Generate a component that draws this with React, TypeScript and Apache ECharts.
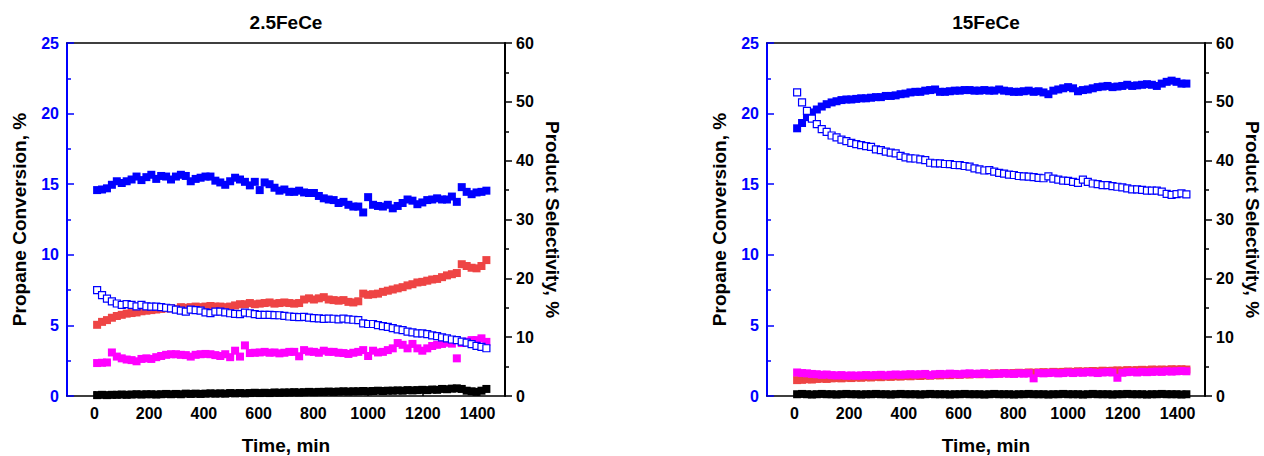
import React, { useEffect, useRef } from "react";
import * as echarts from "echarts";

const FONT = "Liberation Sans";

const TITLES = ["2.5FeCe", "15FeCe"];
const X_TICKS = [0, 200, 400, 600, 800, 1000, 1200, 1400];

const TIME = [
  10, 28, 46, 64, 82, 100, 118, 136, 154, 172,
  190, 208, 226, 244, 262, 280, 298, 316, 334, 352,
  370, 388, 406, 424, 442, 460, 478, 496, 514, 532,
  550, 568, 586, 604, 622, 640, 658, 676, 694, 712,
  730, 748, 766, 784, 802, 820, 838, 856, 874, 892,
  910, 928, 946, 964, 982, 1000, 1018, 1036, 1054, 1072,
  1090, 1108, 1126, 1144, 1162, 1180, 1198, 1216, 1234, 1252,
  1270, 1288, 1306, 1324, 1342, 1360, 1378, 1396, 1414, 1432,
];

// ---- 2.5FeCe ----
const A_CONV = [
  7.5, 7.15, 6.9, 6.7, 6.55, 6.45, 6.5, 6.45, 6.35, 6.45,
  6.35, 6.33, 6.33, 6.3, 6.25, 6.2, 6.12, 6.05, 5.98, 6.12,
  6.08, 6.05, 5.92, 5.87, 5.98, 5.97, 5.92, 5.86, 5.82, 5.8,
  5.9, 5.86, 5.8, 5.75, 5.74, 5.74, 5.73, 5.72, 5.68, 5.63,
  5.6, 5.58, 5.6, 5.55, 5.52, 5.5, 5.46, 5.48, 5.47, 5.43,
  5.48, 5.43, 5.4, 5.38, 5.14, 5.1, 5.1, 5.02, 4.95, 4.9,
  4.8, 4.72, 4.67, 4.56, 4.5, 4.44, 4.43, 4.38, 4.3, 4.24,
  4.15, 4.08, 4.0, 3.96, 3.85, 3.78, 3.68, 3.55, 3.48, 3.38,
];
const A_BLUE = [
  35.0, 35.1, 35.3, 35.9, 36.5, 36.2, 36.5, 36.8, 37.3, 36.7,
  37.2, 37.6, 36.9, 37.4, 37.3, 36.8, 37.3, 37.6, 37.4, 36.5,
  36.9, 37.1, 37.3, 37.3, 36.6, 36.3, 35.9, 36.5, 37.1, 36.8,
  36.4, 35.8, 36.4, 35.0, 36.3, 36.0, 35.4, 34.9, 35.1, 34.7,
  34.7, 34.9, 34.6, 34.5, 34.5, 34.0, 33.6, 33.4, 33.3, 32.8,
  33.0, 32.5, 32.2, 32.2, 31.2, 33.8, 32.5, 32.3, 32.2, 32.5,
  31.9, 32.3, 32.8, 33.4, 33.2, 32.6, 32.9, 33.3, 33.4, 33.6,
  33.4, 33.4, 33.9, 33.0, 35.5, 34.7, 34.3, 34.6, 34.7, 34.9,
];
const A_RED = [
  12.1, 12.6, 12.9, 13.3, 13.6, 13.8, 14.0, 14.1, 14.2, 14.4,
  14.5, 14.6, 14.7, 14.8, 14.9, 14.9, 14.8, 15.1, 15.0, 15.1,
  15.2, 15.1, 15.2, 15.3, 15.2, 15.2, 15.1, 15.2, 15.4, 15.6,
  15.6, 15.8, 15.6, 15.7, 15.8, 15.9, 15.7, 15.8, 15.9, 15.8,
  15.7, 15.8, 16.4, 16.6, 16.4, 16.6, 16.8, 16.4, 16.3, 16.2,
  16.3, 16.0, 15.9, 16.1, 17.4, 17.2, 17.3, 17.4, 17.7, 17.9,
  18.1, 18.3, 18.5, 18.8, 19.0, 19.3, 19.4, 19.6, 19.8, 19.9,
  20.2, 20.5, 20.7, 20.9, 22.4, 22.1, 21.8, 21.7, 22.1, 23.1,
];
const A_MAG = [
  5.6, 5.65, 5.7, 7.4, 6.7, 6.4, 6.2, 6.1, 5.9, 6.3,
  6.4, 6.3, 6.6, 6.8, 7.0, 7.1, 7.1, 7.0, 6.95, 6.7,
  7.0, 7.1, 7.15, 7.1, 6.95, 6.8, 7.1, 6.6, 7.7, 6.7,
  8.6, 7.3, 7.35, 7.4, 7.5, 7.35, 7.4, 7.25, 7.35, 7.5,
  7.5, 6.75, 7.8, 7.55, 7.5, 7.35, 7.7, 7.5, 7.5, 7.35,
  7.3, 7.15, 7.35, 7.5, 7.8, 6.8, 7.7, 7.4, 7.5, 7.8,
  8.1, 9.0, 8.7, 8.1, 8.85, 8.1, 7.7, 8.1, 8.5, 8.7,
  8.85, 9.05, 8.9, 6.4, 9.0, 9.25, 9.5, 9.5, 9.8, 9.2,
];
const A_BLK = [
  0.15, 0.2, 0.15, 0.2, 0.2, 0.25, 0.2, 0.25, 0.3, 0.25,
  0.3, 0.3, 0.25, 0.3, 0.35, 0.3, 0.35, 0.3, 0.4, 0.35,
  0.4, 0.35, 0.4, 0.45, 0.4, 0.45, 0.4, 0.5, 0.45, 0.5,
  0.45, 0.5, 0.55, 0.5, 0.55, 0.5, 0.6, 0.55, 0.6, 0.6,
  0.65, 0.6, 0.65, 0.7, 0.65, 0.7, 0.7, 0.75, 0.7, 0.75,
  0.8, 0.75, 0.8, 0.8, 0.85, 0.8, 0.85, 0.9, 0.85, 0.9,
  0.9, 0.95, 0.9, 1.0, 0.95, 1.0, 1.05, 1.0, 1.1, 1.05,
  1.2, 1.15, 1.25, 1.3, 1.2, 0.9, 0.8, 0.7, 0.9, 1.2,
];

// ---- 15FeCe ----
const B_CONV = [
  21.5, 20.8, 20.2, 19.65, 19.25, 18.9, 18.7, 18.45, 18.32, 18.15,
  18.05, 17.93, 17.84, 17.77, 17.7, 17.64, 17.47, 17.41, 17.3, 17.23,
  17.18, 17.0, 16.9, 16.83, 16.82, 16.76, 16.7, 16.52, 16.48, 16.47,
  16.43, 16.42, 16.36, 16.35, 16.29, 16.24, 16.12, 16.05, 15.97, 16.0,
  15.89, 15.8, 15.75, 15.68, 15.65, 15.58, 15.55, 15.53, 15.5, 15.45,
  15.42, 15.56, 15.4, 15.33, 15.25, 15.24, 15.17, 15.1, 15.33, 15.17,
  15.05, 15.0, 14.94, 14.93, 14.87, 14.82, 14.78, 14.7, 14.64, 14.63,
  14.6, 14.55, 14.55, 14.54, 14.48, 14.31, 14.24, 14.3, 14.35, 14.28,
];
const B_BLUE = [
  45.5, 46.4, 47.4, 48.2, 48.7, 49.2, 49.6, 49.9, 50.1, 50.3,
  50.4, 50.4, 50.5, 50.6, 50.6, 50.7, 50.8, 50.8, 51.0, 51.0,
  51.1, 51.3, 51.4, 51.6, 51.7, 51.7, 51.9, 52.0, 52.1, 51.7,
  51.7, 51.8, 51.9, 51.9, 52.0, 52.0, 51.9, 51.9, 52.0, 51.9,
  51.9, 52.1, 51.9, 51.8, 51.7, 51.7, 51.8, 51.9, 51.7, 51.8,
  51.6, 51.3, 51.9, 52.1, 52.3, 52.5, 52.3, 51.8, 52.0, 52.1,
  52.3, 52.5, 52.6, 52.7, 52.5, 52.6, 52.7, 52.9, 52.7, 52.8,
  52.9, 53.0, 52.9, 52.7, 53.1, 53.4, 53.6, 53.4, 53.1, 53.1,
];
const B_RED = [
  2.7, 2.75, 2.85, 2.8, 2.9, 2.95, 2.9, 3.0, 3.05, 3.0,
  3.1, 3.05, 3.15, 3.1, 3.2, 3.15, 3.25, 3.2, 3.3, 3.25,
  3.35, 3.3, 3.4, 3.35, 3.45, 3.4, 3.5, 3.45, 3.55, 3.5,
  3.6, 3.55, 3.65, 3.6, 3.7, 3.65, 3.75, 3.7, 3.8, 3.75,
  3.85, 3.8, 3.9, 3.85, 3.9, 3.95, 3.9, 4.0, 3.95, 4.0,
  4.05, 4.0, 4.1, 4.05, 4.1, 4.15, 4.1, 4.2, 4.15, 4.2,
  4.25, 4.2, 4.3, 4.25, 4.3, 4.35, 4.3, 4.4, 4.35, 4.4,
  4.45, 4.4, 4.5, 4.45, 4.5, 4.45, 4.55, 4.5, 4.55, 4.5,
];
const B_MAG = [
  4.0, 3.9, 3.85, 3.75, 3.7, 3.6, 3.65, 3.55, 3.5, 3.55,
  3.45, 3.5, 3.45, 3.5, 3.55, 3.5, 3.55, 3.6, 3.5, 3.6,
  3.65, 3.6, 3.65, 3.7, 3.65, 3.7, 3.75, 3.55, 3.7, 3.75,
  3.7, 3.8, 3.75, 3.7, 3.8, 3.85, 3.75, 3.8, 3.85, 3.7,
  3.75, 3.8, 3.85, 3.8, 3.75, 3.85, 3.8, 3.85, 3.0, 3.9,
  3.85, 3.9, 3.95, 3.85, 3.9, 4.0, 3.9, 4.0, 3.95, 4.05,
  4.0, 3.9, 4.0, 4.05, 4.0, 3.1, 3.95, 4.05, 4.1, 4.0,
  4.1, 4.05, 4.1, 4.15, 4.1, 4.2, 4.15, 4.2, 4.25, 4.2,
];
const B_BLK = [
  0.3, 0.35, 0.3, 0.25, 0.3, 0.35, 0.3, 0.3, 0.25, 0.3,
  0.35, 0.3, 0.3, 0.25, 0.3, 0.3, 0.35, 0.3, 0.3, 0.25,
  0.3, 0.35, 0.3, 0.3, 0.3, 0.25, 0.3, 0.35, 0.3, 0.3,
  0.3, 0.25, 0.3, 0.3, 0.35, 0.3, 0.3, 0.3, 0.25, 0.3,
  0.35, 0.3, 0.3, 0.3, 0.25, 0.3, 0.3, 0.35, 0.3, 0.3,
  0.3, 0.25, 0.3, 0.3, 0.35, 0.3, 0.3, 0.3, 0.25, 0.3,
  0.35, 0.3, 0.3, 0.3, 0.25, 0.3, 0.3, 0.35, 0.3, 0.3,
  0.3, 0.25, 0.3, 0.3, 0.35, 0.3, 0.3, 0.3, 0.25, 0.3,
];

const BLUE = "#0000ff";
const RED = "#ee4444";
const MAGENTA = "#ff00ff";
const BLACK = "#000000";

const pair = (vals: number[]) => TIME.map((t, i) => [t, vals[i]]);

function buildOption() {
  const grids = [
    { left: 67, right: 759, top: 43, bottom: 60, outerBoundsMode: "none", containLabel: false },
    { left: 767, right: 59, top: 43, bottom: 60, outerBoundsMode: "none", containLabel: false },
  ];
  const bold = { fontFamily: FONT, fontWeight: "bold" as const };
  const xAxes: any[] = [];
  const yAxes: any[] = [];
  [0, 1].forEach((g) => {
    xAxes.push({
      gridIndex: g,
      type: "value",
      min: -100,
      max: 1500,
      position: "bottom",
      axisLine: { onZero: false, lineStyle: { color: BLACK, width: 1.5 } },
      axisTick: { inside: true, length: 5, customValues: X_TICKS, lineStyle: { color: BLACK, width: 1.5 } },
      axisLabel: {
        customValues: X_TICKS,
        formatter: (v: number) => String(v),
        color: BLACK,
        fontSize: 16,
        margin: 9,
        ...bold,
      },
      splitLine: { show: false },
      name: "Time, min",
      nameLocation: "middle",
      nameGap: 40,
      nameTextStyle: { color: BLACK, fontSize: 19, ...bold },
    });
  });
  [0, 1].forEach((g) => {
    xAxes.push({
      gridIndex: g,
      type: "value",
      min: -100,
      max: 1500,
      position: "top",
      axisLine: { onZero: false, lineStyle: { color: BLACK, width: 1.5 } },
      axisTick: { show: false },
      axisLabel: { show: false },
      splitLine: { show: false },
    });
  });
  [0, 1].forEach((g) => {
    yAxes.push({
      gridIndex: g,
      type: "value",
      min: 0,
      max: 25,
      interval: 5,
      position: "left",
      axisLine: { show: true, onZero: false, lineStyle: { color: BLUE, width: 2 } },
      axisTick: { show: true, inside: true, length: 7, lineStyle: { color: BLUE, width: 1.5 } },
      minorTick: { show: true, splitNumber: 2, length: 4, lineStyle: { color: BLUE, width: 1.5 } },
      axisLabel: { color: BLUE, fontSize: 16, margin: 8, ...bold },
      splitLine: { show: false },
      name: "Propane Conversion, %",
      nameLocation: "middle",
      nameGap: 38,
      nameRotate: 90,
      nameTextStyle: { color: BLACK, fontSize: 19, ...bold },
    });
    yAxes.push({
      gridIndex: g,
      type: "value",
      min: 0,
      max: 60,
      interval: 10,
      position: "right",
      axisLine: { show: true, onZero: false, lineStyle: { color: BLACK, width: 2 } },
      axisTick: { show: true, inside: false, length: 7, lineStyle: { color: BLACK, width: 1.5 } },
      minorTick: { show: true, splitNumber: 2, length: 4, lineStyle: { color: BLACK, width: 1.5 } },
      axisLabel: { color: BLACK, fontSize: 16, margin: 11, ...bold },
      splitLine: { show: false },
      name: "Product Selectivity, %",
      nameLocation: "middle",
      nameGap: 38,
      nameRotate: -90,
      nameTextStyle: { color: BLACK, fontSize: 19, ...bold },
    });
  });

  const filled = (name: string, data: number[], color: string, xi: number, yi: number) => ({
    name,
    type: "scatter",
    xAxisIndex: xi,
    yAxisIndex: yi,
    symbol: "rect",
    symbolSize: 8,
    silent: true,
    itemStyle: { color, opacity: 1 },
    data: pair(data),
  });
  const hollow = (name: string, data: number[], xi: number, yi: number) => ({
    name,
    type: "scatter",
    xAxisIndex: xi,
    yAxisIndex: yi,
    symbol: "rect",
    symbolSize: 7,
    silent: true,
    itemStyle: { color: "#ffffff", borderColor: BLUE, borderWidth: 1.2, opacity: 1 },
    data: pair(data),
  });

  const series = [
    filled("A other", A_BLK, BLACK, 0, 1),
    filled("A red", A_RED, RED, 0, 1),
    filled("A magenta", A_MAG, MAGENTA, 0, 1),
    filled("A selectivity", A_BLUE, BLUE, 0, 1),
    hollow("A conversion", A_CONV, 0, 0),
    filled("B other", B_BLK, BLACK, 1, 3),
    filled("B red", B_RED, RED, 1, 3),
    filled("B magenta", B_MAG, MAGENTA, 1, 3),
    filled("B selectivity", B_BLUE, BLUE, 1, 3),
    hollow("B conversion", B_CONV, 1, 2),
  ];

  return {
    animation: false,
    backgroundColor: "#ffffff",
    textStyle: { fontFamily: FONT },
    grid: grids,
    xAxis: xAxes,
    yAxis: yAxes,
    graphic: [
      {
        type: "text",
        x: 286,
        y: 22,
        style: { text: TITLES[0], fill: BLACK, font: `bold 19px "${FONT}"`, textAlign: "center", textVerticalAlign: "middle" },
      },
      {
        type: "text",
        x: 986,
        y: 22,
        style: { text: TITLES[1], fill: BLACK, font: `bold 19px "${FONT}"`, textAlign: "center", textVerticalAlign: "middle" },
      },
    ],
    series,
  };
}

export default function App() {
  const ref = useRef<HTMLDivElement>(null);
  useEffect(() => {
    if (!ref.current) return;
    const chart = echarts.init(ref.current, undefined, { renderer: "svg" });
    chart.setOption(buildOption() as any);
    return () => chart.dispose();
  }, []);
  return (
    <div
      ref={ref}
      style={{ position: "fixed", left: 0, top: 0, width: 1264, height: 456, background: "#fff" }}
    />
  );
}
